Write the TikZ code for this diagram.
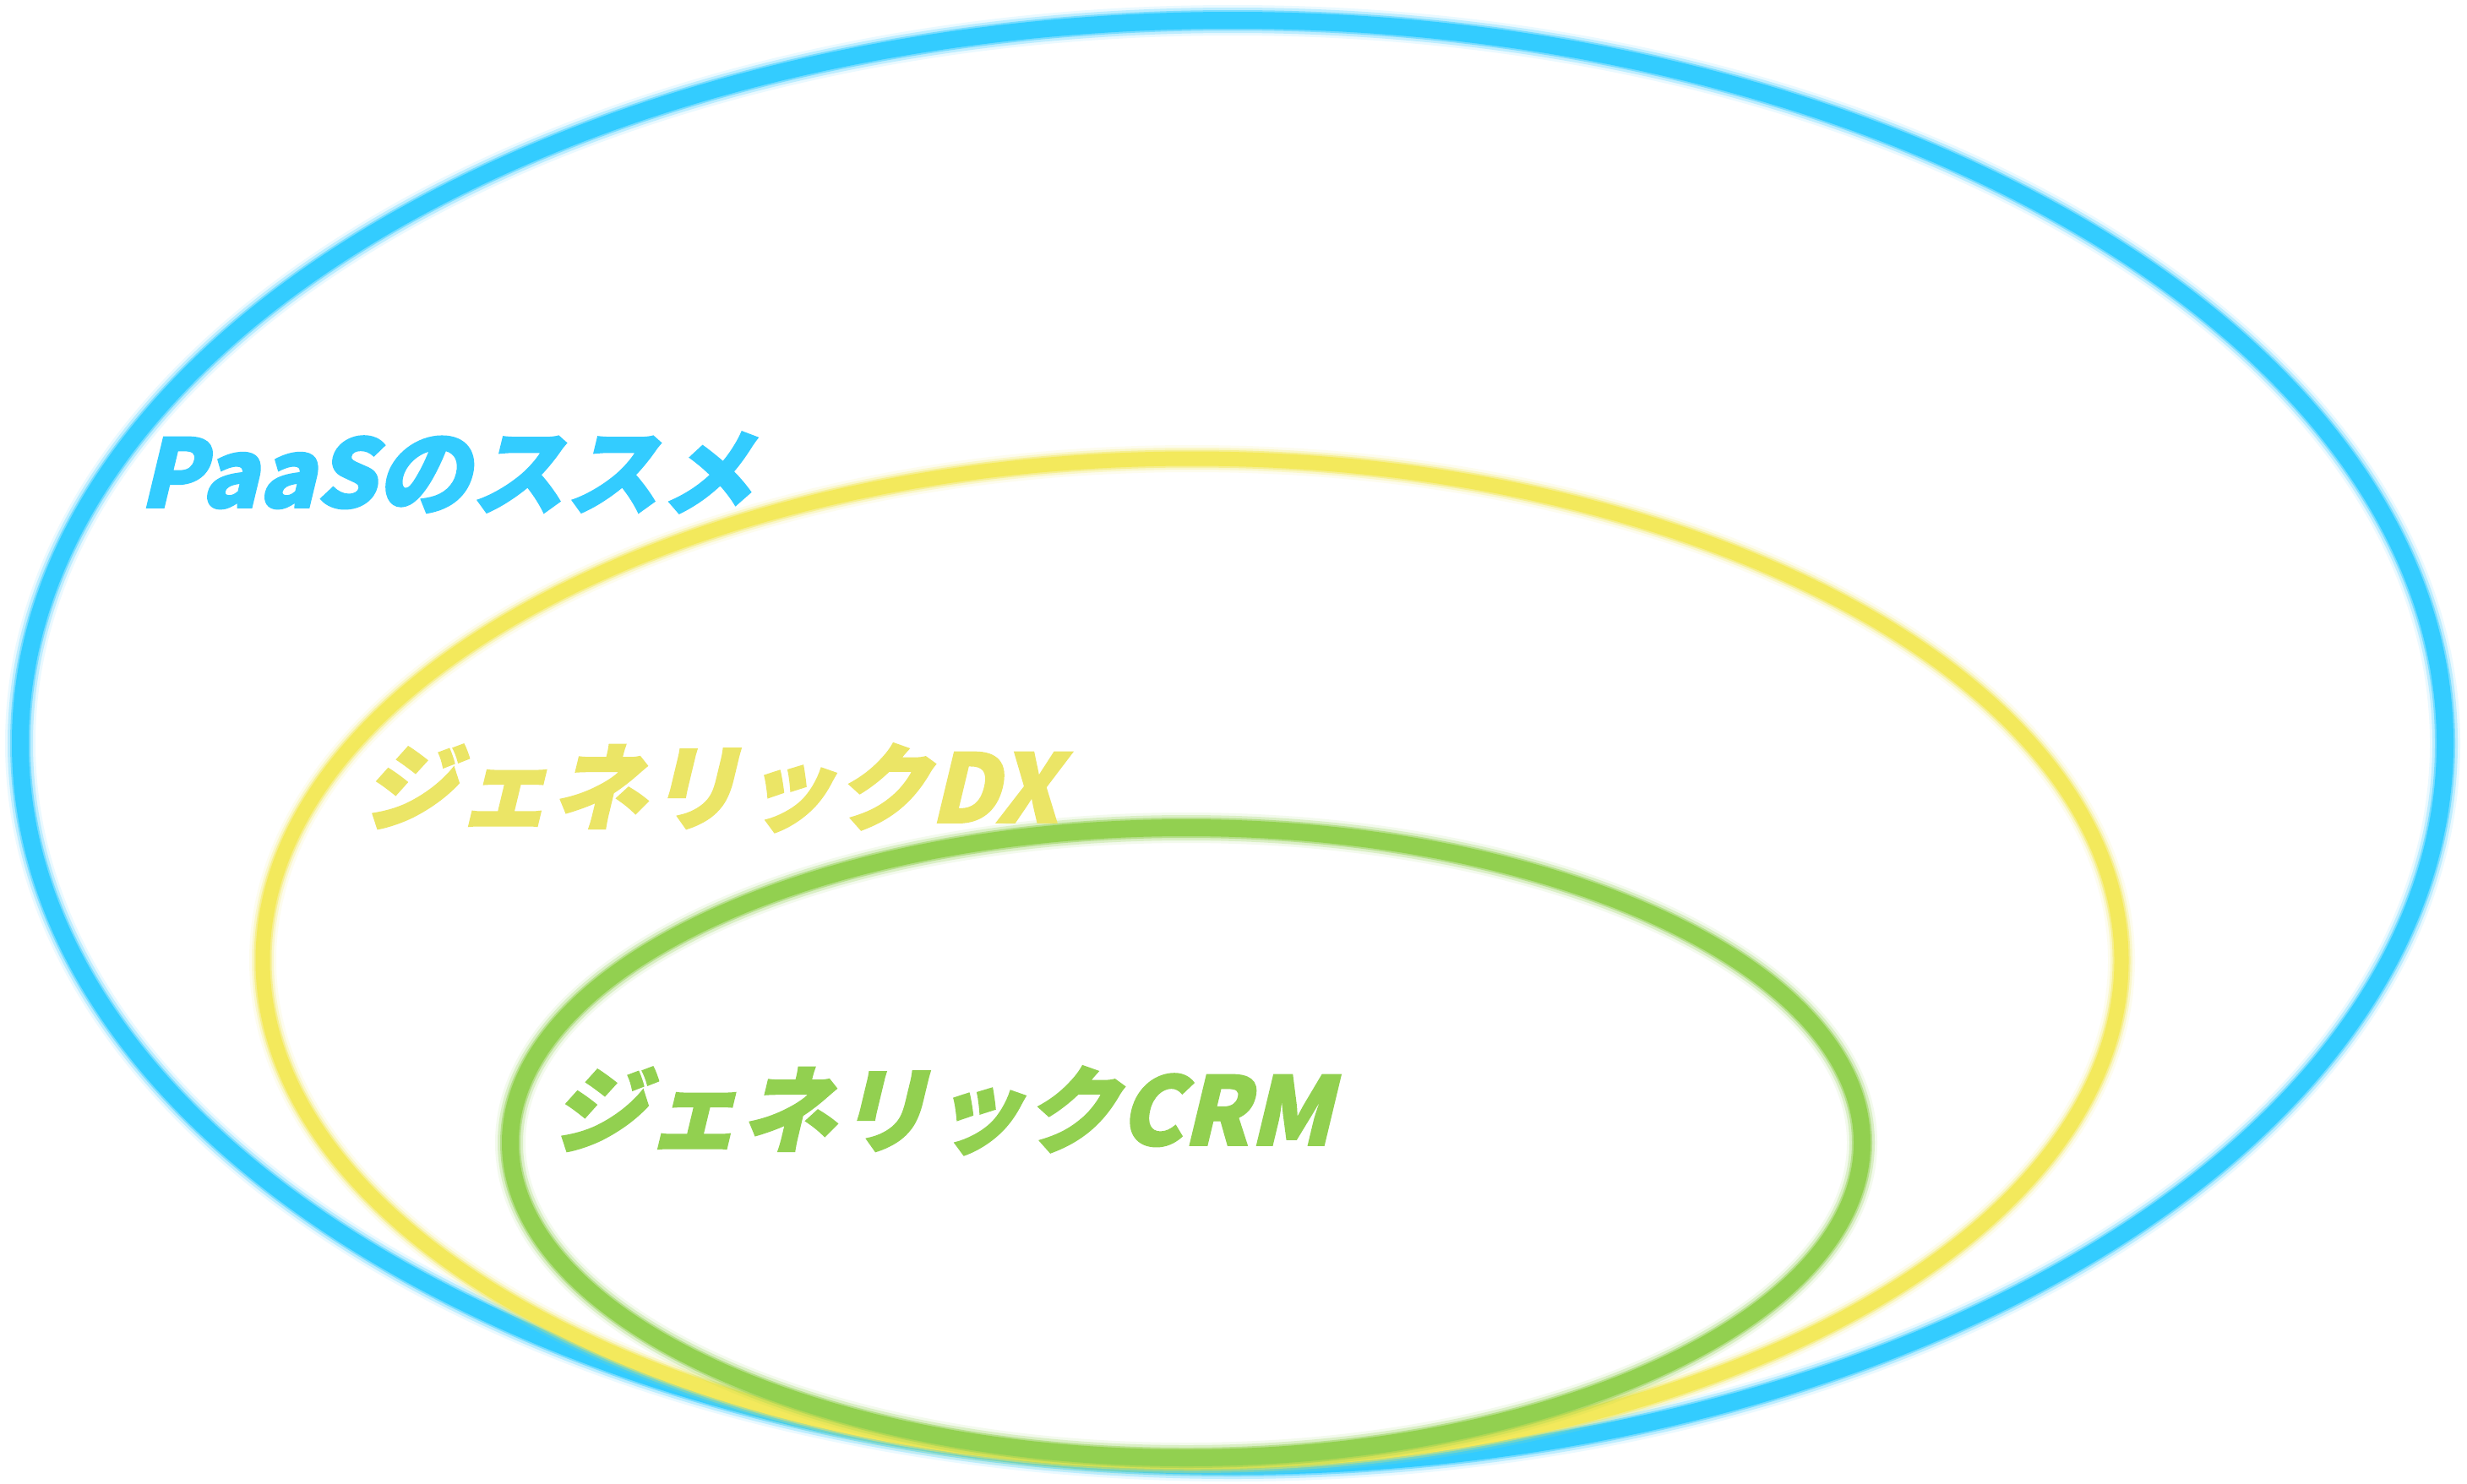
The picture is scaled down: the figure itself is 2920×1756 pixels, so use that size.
\documentclass[tikz,border=0pt]{standalone}
\usepackage{fontspec}
\newfontfamily\jpb[FakeSlant=0.24, FakeBold=1.6]{Noto Sans CJK JP}
\definecolor{cblue}{HTML}{33CCFF}
\definecolor{cyel}{HTML}{F3E95C}
\definecolor{cyeltxt}{HTML}{EBE566}
\definecolor{cgreen}{HTML}{92D050}
\begin{document}
\begin{tikzpicture}[x=1pt,y=-1pt,
  txtlabel/.style={anchor=base west, inner sep=0pt, font=\jpb\bfseries\fontsize{112}{130}\selectfont}]
\useasboundingbox (0,0) rectangle (2920,1756);
\fill[white] (0,0) rectangle (2920,1756);
% blue ring
\foreach \w/\o in {36/0.1, 30/0.25, 24/0.5, 20/1}
  \draw[cblue, line width=\w pt, opacity=\o] (1459,880) ellipse [x radius=1435, y radius=856];
% yellow ring
\foreach \w/\o in {32/0.1, 26/0.25, 21/0.5, 17/1}
  \draw[cyel, line width=\w pt, opacity=\o] (1411,1137) ellipse [x radius=1100, y radius=594];
% green ring
\foreach \w/\o in {36/0.1, 30/0.25, 24/0.5, 20/1}
  \draw[cgreen, line width=\w pt, opacity=\o] (1404,1353) ellipse [x radius=800, y radius=373];
% labels
\node[txtlabel, text=cblue] (paas) at (164,601) {PaaSのススメ};
\node[txtlabel, text=cyeltxt] (dx) at (428,974) {ジェネリックDX};
\node[txtlabel, text=cgreen] (crm) at (652,1356) {ジェネリックCRM};
\end{tikzpicture}
\end{document}
